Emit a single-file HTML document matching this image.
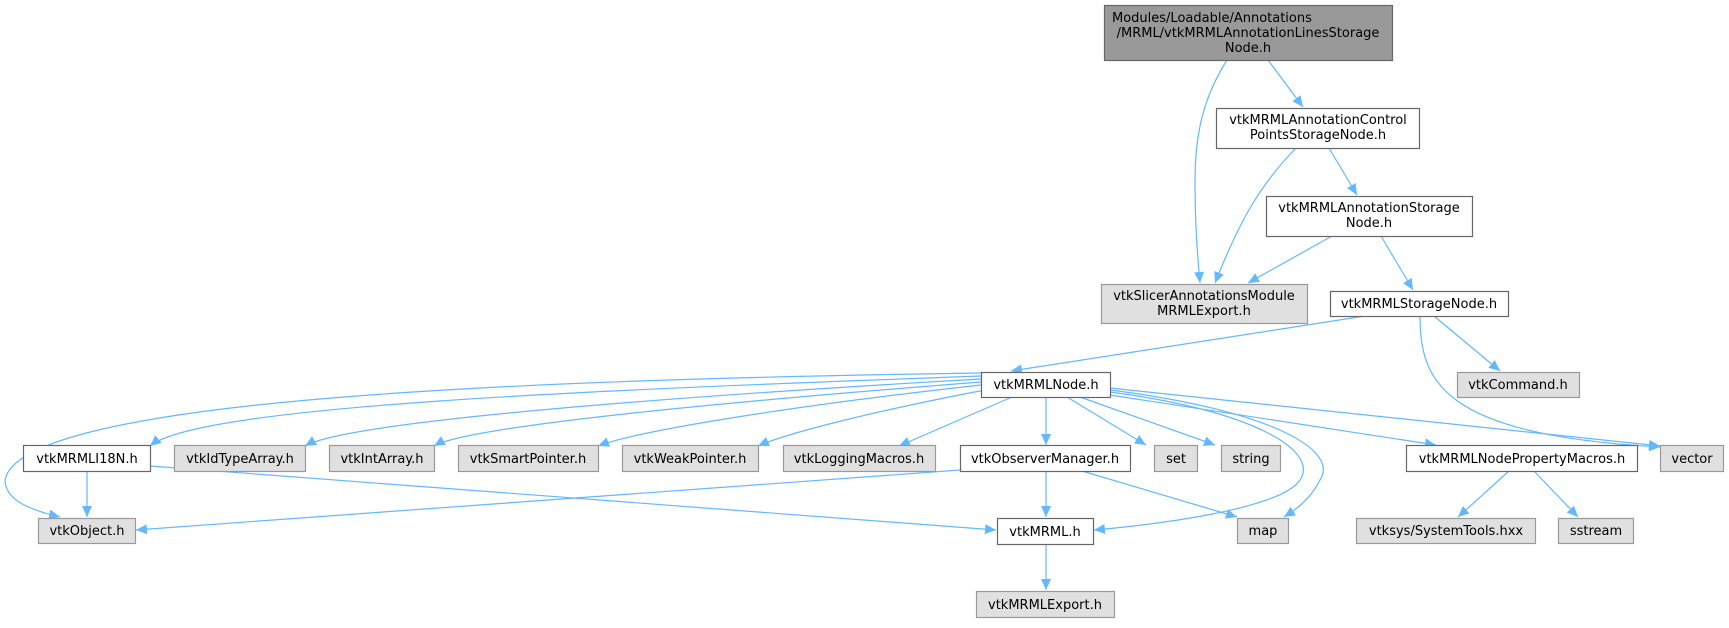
<!DOCTYPE html>
<html><head><meta charset="utf-8"><style>
html,body{margin:0;padding:0;background:#fff;}
svg text{font-family:"DejaVu Sans","Liberation Sans",sans-serif;font-size:13px;fill:#000;text-anchor:middle;}
.w{fill:#fff;stroke:#666;stroke-width:1.2}
.g{fill:#e0e0e0;stroke:#999;stroke-width:1.2}
.e{fill:none;stroke:#63b8ff;stroke-width:1.2}
</style></head><body>
<svg width="1729" height="623" viewBox="0 0 1729 623" xmlns="http://www.w3.org/2000/svg">
<defs><marker id="a" markerUnits="userSpaceOnUse" markerWidth="12" markerHeight="10" refX="11" refY="5" orient="auto"><path d="M0,0 L11,5 L0,10 z" fill="#63b8ff"/></marker></defs>
<g class="e" marker-end="url(#a)">
<path d="M1227,60 C1205,95 1195,130 1195,180 C1195,230 1198,260 1200,283"/>
<path d="M1268,60 L1303,107"/>
<path d="M1296,148 C1260,185 1240,220 1215,283"/>
<path d="M1329,148 L1357,195"/>
<path d="M1332,236 L1248,283"/>
<path d="M1381,236 L1413,290"/>
<path d="M1365,316 L1011,371"/>
<path d="M1434,316 L1500,371"/>
<path d="M1420,316 C1420,380 1440,435 1660,447"/>
<path d="M981,376 C600,390 200,405 150,446"/>
<path d="M981,379 C700,395 350,420 305,446"/>
<path d="M981,382 C750,400 470,425 434,446"/>
<path d="M981,385 C800,405 640,430 598,446"/>
<path d="M985,390 C880,410 790,432 758,446"/>
<path d="M1012,397 L899,446"/>
<path d="M1046,397 L1046,445"/>
<path d="M1067,397 L1146,445"/>
<path d="M1080,397 L1215,445"/>
<path d="M1110,395 L1436,445"/>
<path d="M1110,388 L1660,446"/>
<path d="M981,373 C500,380 20,400 5,480 C5,500 30,510 60,517"/>
<path d="M1110,392 C1250,410 1320,450 1300,480 C1280,510 1150,525 1094,530"/>
<path d="M1110,390 C1270,410 1340,450 1320,480 C1310,500 1295,510 1284,517"/>
<path d="M87,471 L87,517"/>
<path d="M150,466 L996,530"/>
<path d="M960,470 L136,530"/>
<path d="M1046,471 L1046,517"/>
<path d="M1082,471 L1237,517"/>
<path d="M1046,544 L1046,590"/>
<path d="M1509,471 L1458,517"/>
<path d="M1534,471 L1578,517"/>
</g>
<rect x="1104.5" y="5.5" width="288" height="55" fill="#999" stroke="#666" stroke-width="1.2"/>
<text x="1112" y="22" style="text-anchor:start">Modules/Loadable/Annotations</text>
<text x="1248" y="37">/MRML/vtkMRMLAnnotationLinesStorage</text>
<text x="1248" y="52">Node.h</text>
<rect class="w" x="1216.5" y="108.5" width="203" height="40"/>
<text x="1318" y="124">vtkMRMLAnnotationControl</text><text x="1318" y="139">PointsStorageNode.h</text>
<rect class="w" x="1266.5" y="196.5" width="206" height="40"/>
<text x="1369" y="212">vtkMRMLAnnotationStorage</text><text x="1369" y="227">Node.h</text>
<rect class="g" x="1101.5" y="284.5" width="206" height="39"/>
<text x="1204" y="300">vtkSlicerAnnotationsModule</text><text x="1204" y="315">MRMLExport.h</text>
<rect class="w" x="1330.5" y="291.5" width="178" height="25"/><text x="1419" y="308">vtkMRMLStorageNode.h</text>
<rect class="g" x="1457.5" y="372.5" width="122" height="25"/><text x="1518" y="389">vtkCommand.h</text>
<rect class="w" x="981.5" y="372.5" width="129" height="25"/><text x="1046" y="389">vtkMRMLNode.h</text>
<rect class="w" x="23.5" y="445.5" width="127" height="26"/><text x="87" y="463">vtkMRMLI18N.h</text>
<rect class="g" x="174.5" y="445.5" width="131" height="26"/><text x="240" y="463">vtkIdTypeArray.h</text>
<rect class="g" x="329.5" y="445.5" width="105" height="26"/><text x="382" y="463">vtkIntArray.h</text>
<rect class="g" x="458.5" y="445.5" width="140" height="26"/><text x="528" y="463">vtkSmartPointer.h</text>
<rect class="g" x="622.5" y="445.5" width="136" height="26"/><text x="690" y="463">vtkWeakPointer.h</text>
<rect class="g" x="783.5" y="445.5" width="152" height="26"/><text x="859" y="463">vtkLoggingMacros.h</text>
<rect class="w" x="960.5" y="445.5" width="170" height="26"/><text x="1045" y="463">vtkObserverManager.h</text>
<rect class="g" x="1154.5" y="445.5" width="43" height="26"/><text x="1176" y="463">set</text>
<rect class="g" x="1221.5" y="445.5" width="59" height="26"/><text x="1251" y="463">string</text>
<rect class="w" x="1406.5" y="445.5" width="231" height="26"/><text x="1522" y="463">vtkMRMLNodePropertyMacros.h</text>
<rect class="g" x="1660.5" y="445.5" width="63" height="26"/><text x="1692" y="463">vector</text>
<rect class="g" x="38.5" y="518.5" width="97" height="25"/><text x="87" y="535">vtkObject.h</text>
<rect class="w" x="997.5" y="518.5" width="96" height="26"/><text x="1045" y="536">vtkMRML.h</text>
<rect class="g" x="1237.5" y="518.5" width="51" height="25"/><text x="1263" y="535">map</text>
<rect class="g" x="1356.5" y="518.5" width="179" height="25"/><text x="1446" y="535">vtksys/SystemTools.hxx</text>
<rect class="g" x="1558.5" y="518.5" width="75" height="25"/><text x="1596" y="535">sstream</text>
<rect class="g" x="976.5" y="591.5" width="138" height="26"/><text x="1045" y="609">vtkMRMLExport.h</text>
</svg>
</body></html>
